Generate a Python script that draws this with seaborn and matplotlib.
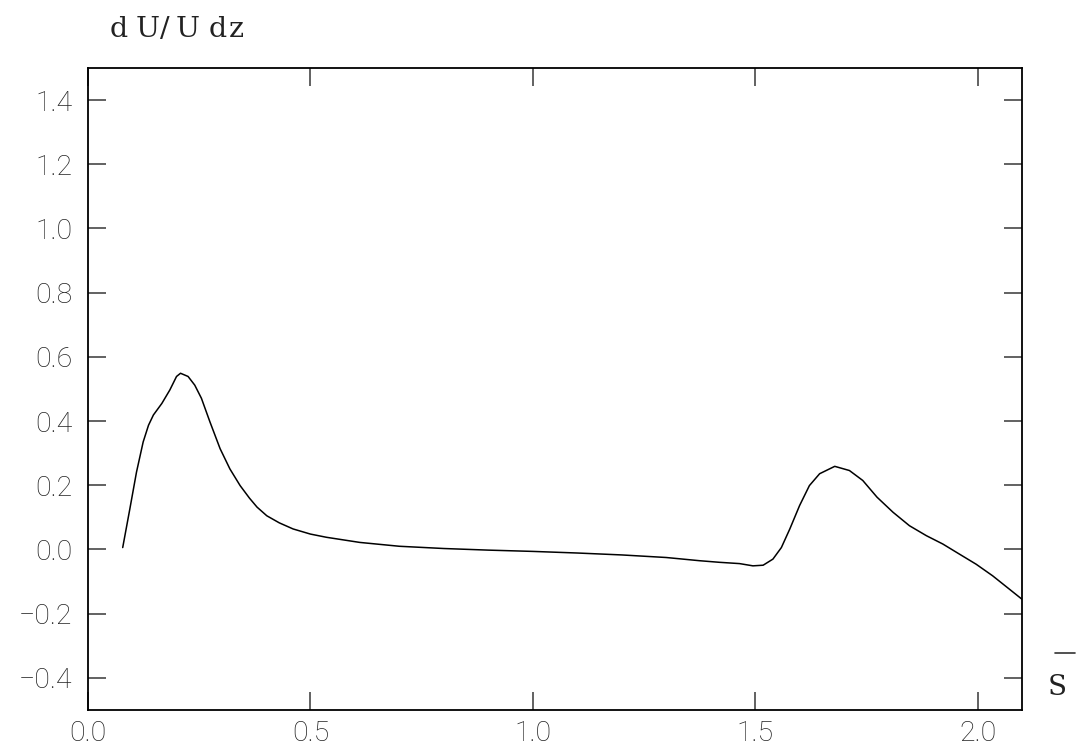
import matplotlib
matplotlib.use("Agg")
import matplotlib.pyplot as plt
from matplotlib.lines import Line2D
import seaborn as sns
import pandas as pd

# Velocity-gradient profile along the surface coordinate
s_values = [0.078, 0.094, 0.109, 0.124, 0.136, 0.147, 0.166, 0.184, 0.199, 0.208,
            0.225, 0.240, 0.255, 0.274, 0.297, 0.319, 0.342, 0.363, 0.380, 0.402,
            0.430, 0.461, 0.500, 0.536, 0.611, 0.700, 0.800, 0.900, 1.000, 1.100,
            1.200, 1.300, 1.375, 1.420, 1.465, 1.495, 1.518, 1.540, 1.559, 1.578,
            1.600, 1.622, 1.645, 1.679, 1.712, 1.742, 1.774, 1.810, 1.847, 1.885,
            1.922, 1.960, 1.997, 2.034, 2.072, 2.100]
dudz_values = [0.006, 0.126, 0.241, 0.335, 0.387, 0.419, 0.455, 0.497, 0.539, 0.549,
               0.539, 0.512, 0.471, 0.398, 0.314, 0.251, 0.199, 0.160, 0.132, 0.105,
               0.083, 0.064, 0.048, 0.038, 0.022, 0.010, 0.003, -0.002, -0.006, -0.011,
               -0.017, -0.025, -0.035, -0.040, -0.044, -0.051, -0.049, -0.030, 0.006, 0.064,
               0.137, 0.199, 0.236, 0.259, 0.246, 0.215, 0.163, 0.116, 0.074, 0.043,
               0.017, -0.015, -0.046, -0.082, -0.124, -0.155]

x_ticks = [0.0, 0.5, 1.0, 1.5, 2.0]
y_ticks = [-0.4, -0.2, 0.0, 0.2, 0.4, 0.6, 0.8, 1.0, 1.2, 1.4]

sns.set_theme(style="white")
plt.rcParams["font.family"] = ["Roboto", "DejaVu Sans"]

df = pd.DataFrame({"s": s_values, "dudz": dudz_values})

fig = plt.figure(figsize=(10.76, 7.54), dpi=100)
ax = fig.add_axes([0.0818, 0.0584, 0.868, 0.8514])

sns.lineplot(data=df, x="s", y="dudz", ax=ax, color="black", linewidth=1.1,
             sort=False, estimator=None)

ax.set_xlim(0.0, 2.1)
ax.set_ylim(-0.5, 1.5)
ax.set_xticks(x_ticks)
ax.set_yticks(y_ticks)
ax.set_xticklabels([f"{v:.1f}" for v in x_ticks])
ax.set_yticklabels([f"{v:.1f}".replace("-", "\u2212") for v in y_ticks])
ax.set_xlabel("")
ax.set_ylabel("")

ax.tick_params(axis="both", direction="in", length=13, width=1.3, color="#555555",
               top=True, right=True, bottom=True, left=True,
               labelsize=20.5, labelcolor="#222222")
ax.tick_params(axis="y", pad=11)
ax.tick_params(axis="x", pad=7)
for lbl in ax.get_xticklabels() + ax.get_yticklabels():
    lbl.set_fontweight("light")

for sp in ax.spines.values():
    sp.set_visible(True)
    sp.set_color("black")
    sp.set_linewidth(1.3)

# Vertical axis title, set glyph by glyph with wide spacing
title_chars = ["d", "U", "/", "U", "d", "z"]
title_x_px = [119, 147.5, 165, 188, 217.5, 236.5]
for ch, xp in zip(title_chars, title_x_px):
    fig.text(xp / 1076, 1 - 37 / 754, ch, fontsize=20.5, family="DejaVu Serif",
             color="#222222", ha="center", va="baseline")

# Horizontal axis title: S with an overbar
fig.text(1057.5 / 1076, 1 - 695 / 754, "S", fontsize=20, family="DejaVu Serif",
         color="#222222", ha="center", va="baseline")
fig.add_artist(Line2D([1055 / 1076, 1075 / 1076], [1 - 653 / 754, 1 - 653 / 754],
                      color="#333333", linewidth=1.2, transform=fig.transFigure))

fig.savefig("out.png", dpi=100)
